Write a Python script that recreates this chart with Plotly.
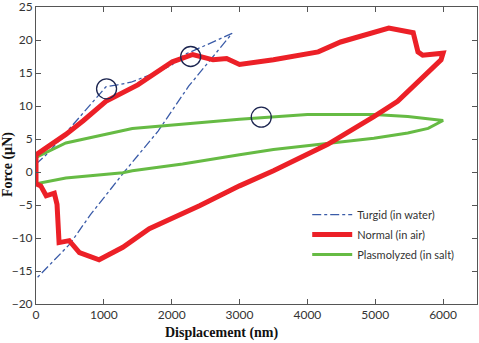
import plotly.graph_objects as go

# Turgid (in water): loading then unloading
turgid_x = [0, 150, 370, 700, 1030, 1200, 1400, 1500, 1800, 2000, 2190, 2500, 2890,
            2250, 1800, 1300, 800, 500, 250, 0]
turgid_y = [1.2, 2.6, 5.1, 9.0, 12.9, 13.2, 13.6, 14.0, 15.2, 16.2, 17.8, 19.2, 21.0,
            13.0, 6.2, 0.0, -6.5, -10.9, -13.6, -16.2]

# Normal (in air)
normal_x = [0, 200, 440, 700, 1030, 1500, 2010, 2310, 2610, 2810, 3000, 3500, 4160,
            4490, 4900, 5200, 5560, 5630, 5700, 6000,
            5970, 5670, 5330, 4980, 4300, 3500, 3000, 2410, 1670, 1280, 930, 640,
            490, 340, 310, 270, 150, 70, 0, 0]
normal_y = [2.6, 4.0, 5.7, 7.8, 10.7, 13.2, 16.7, 17.8, 17.0, 17.2, 16.3, 17.0, 18.2,
            19.7, 21.0, 21.8, 21.1, 18.2, 17.7, 18.0,
            17.0, 14.0, 10.7, 8.4, 4.2, 0.2, -2.1, -5.1, -8.6, -11.4, -13.3, -12.2,
            -10.4, -10.7, -4.9, -3.2, -3.6, -2.1, -1.8, 2.6]

# Plasmolyzed (in salt)
plasmo_x = [0, 440, 1420, 2070, 3000, 4000, 4980, 5480, 6000,
            5780, 5480, 4980, 4240, 3500, 3000, 2160, 1420, 1280, 440, 40, 0]
plasmo_y = [2.2, 4.4, 6.6, 7.2, 8.0, 8.7, 8.7, 8.4, 7.8,
            6.6, 5.9, 5.1, 4.2, 3.4, 2.6, 1.2, 0.2, -0.1, -0.9, -1.8, -1.8]

# Highlighted points (circles)
circle_x = [1040, 2280, 3320]
circle_y = [12.6, 17.5, 8.3]

x_ticks = [0, 1000, 2000, 3000, 4000, 5000, 6000]
y_ticks = [-20, -15, -10, -5, 0, 5, 10, 15, 20, 25]

fig = go.Figure()
fig.add_trace(go.Scatter(x=turgid_x, y=turgid_y, mode="lines", name="Turgid (in water)",
                         legendrank=1, legendgroup="a",
                         line=dict(color="#3a5ba8", width=1.3, dash="dashdot")))
fig.add_trace(go.Scatter(x=plasmo_x, y=plasmo_y, mode="lines", name="Plasmolyzed (in salt)",
                         legendrank=3, legendgroup="c",
                         line=dict(color="#66bb44", width=3)))
fig.add_trace(go.Scatter(x=normal_x, y=normal_y, mode="lines", name="Normal (in air)",
                         legendrank=2, legendgroup="b",
                         line=dict(color="#ec2027", width=5)))
fig.add_trace(go.Scatter(x=circle_x, y=circle_y, mode="markers", showlegend=False,
                         marker=dict(symbol="circle-open", size=20,
                                     color="#1c2550", line=dict(width=1.3))))

axis_common = dict(showline=True, mirror="ticks", linecolor="#555", linewidth=1,
                   ticks="inside", ticklen=5, tickcolor="#555", showgrid=False,
                   zeroline=False, automargin=False, ticklabeloverflow="allow",
                   tickfont=dict(family="Lato, sans-serif", size=12, color="#333"))

fig.update_layout(
    width=479, height=343,
    margin=dict(l=36, r=2, t=7, b=39),
    paper_bgcolor="white", plot_bgcolor="white",
    xaxis=dict(range=[0, 6500], tickvals=x_ticks, **axis_common),
    yaxis=dict(range=[-20, 25], tickvals=y_ticks, ticklabelstandoff=0, **axis_common),
    legend=dict(x=0.615, y=0.35, xanchor="left", yanchor="top",
                traceorder="grouped", bgcolor="rgba(0,0,0,0)",
                font=dict(family="Lato, sans-serif", size=11, color="#333"),
                itemwidth=40, tracegroupgap=1),
    showlegend=True,
    annotations=[
        dict(text="<b>Displacement (nm)</b>", xref="paper", yref="paper",
             x=(221 - 36) / 441, y=-(333 - 304) / 297, xanchor="center", yanchor="middle",
             showarrow=False,
             font=dict(family="Liberation Serif, serif", size=14, color="#111")),
        dict(text="<b>Force (µN)</b>", xref="paper", yref="paper", textangle=-90,
             x=-(36 - 8) / 441, y=(304 - 165) / 297, xanchor="center", yanchor="middle",
             showarrow=False,
             font=dict(family="Liberation Serif, serif", size=14, color="#111")),
    ],
)

fig.write_html("out.html", config={"displayModeBar": False},
               post_script="document.body.style.margin='0';document.body.style.overflow='hidden';")
